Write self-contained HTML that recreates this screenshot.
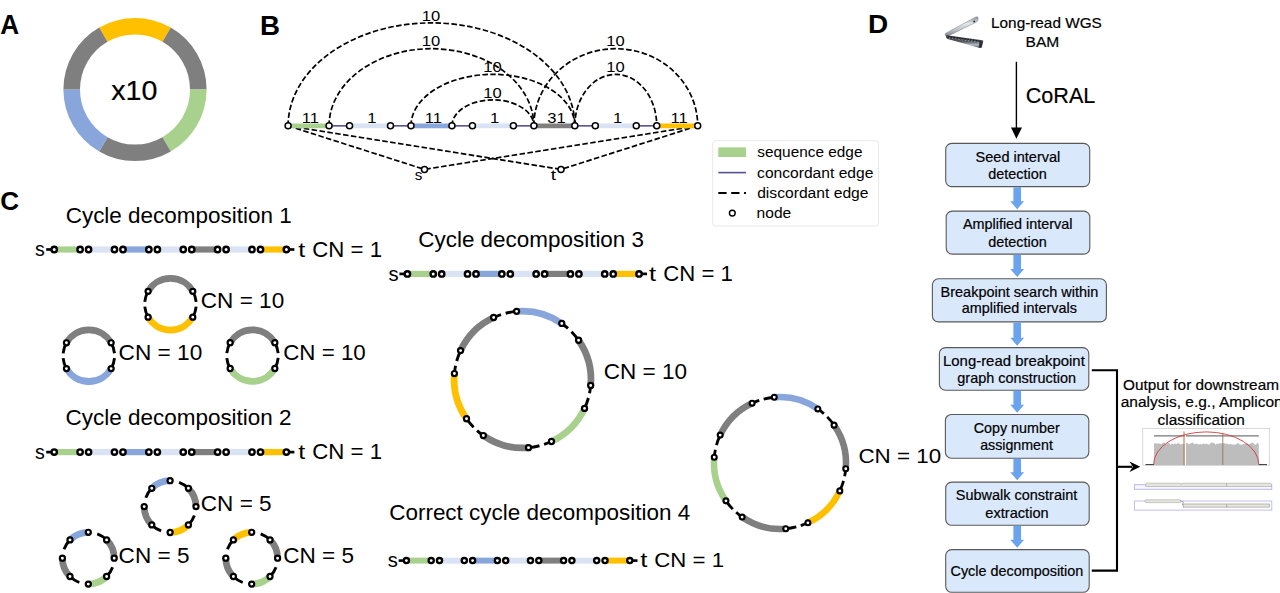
<!DOCTYPE html>
<html><head><meta charset="utf-8"><title>CoRAL figure</title>
<style>
html,body{margin:0;padding:0;background:#fff;}
body{width:1280px;height:593px;overflow:hidden;}
svg{display:block;font-family:"Liberation Sans",sans-serif;}
text.ar{stroke:#000;stroke-width:0.2px;}
</style></head>
<body>
<svg width="1280" height="593" viewBox="0 0 1280 593">
<rect width="1280" height="593" fill="#fff"/>
<text transform="translate(0.18,33.90) scale(0.9707,1)" font-size="27.00" font-weight="bold" fill="#000">A</text>
<text transform="translate(260.00,34.90) scale(1.0261,1)" font-size="27.00" font-weight="bold" fill="#000">B</text>
<text transform="translate(0.16,210.30) scale(0.9852,1)" font-size="26.50" font-weight="bold" fill="#000">C</text>
<text transform="translate(868.08,33.00) scale(1.0968,1)" font-size="25.50" font-weight="bold" fill="#000">D</text>
<path d="M103.35,34.68 A63.3,63.3 0 0 1 166.65,34.68" fill="none" stroke="#FFC000" stroke-width="16.6" stroke-linecap="butt"/>
<path d="M166.65,34.68 A63.3,63.3 0 0 1 198.30,89.50" fill="none" stroke="#7F7F7F" stroke-width="16.6" stroke-linecap="butt"/>
<path d="M198.30,89.50 A63.3,63.3 0 0 1 166.65,144.32" fill="none" stroke="#A9D18E" stroke-width="16.6" stroke-linecap="butt"/>
<path d="M166.65,144.32 A63.3,63.3 0 0 1 103.35,144.32" fill="none" stroke="#7F7F7F" stroke-width="16.6" stroke-linecap="butt"/>
<path d="M103.35,144.32 A63.3,63.3 0 0 1 71.70,89.50" fill="none" stroke="#88A6DC" stroke-width="16.6" stroke-linecap="butt"/>
<path d="M71.70,89.50 A63.3,63.3 0 0 1 103.35,34.68" fill="none" stroke="#7F7F7F" stroke-width="16.6" stroke-linecap="butt"/>
<text class="ar" transform="translate(111.27,100.40) scale(1.0599,1)" font-size="27.00" fill="#000">x10</text>
<path d="M288.10,125.85 A143.36,103 0 0 1 574.82,125.85" fill="none" stroke="#000" stroke-width="1.7" stroke-dasharray="5.55 2.4"/>
<path d="M329.06,125.85 A102.40,77.2 0 0 1 533.86,125.85" fill="none" stroke="#000" stroke-width="1.7" stroke-dasharray="5.55 2.4"/>
<path d="M410.98,125.85 A81.92,51.5 0 0 1 574.82,125.85" fill="none" stroke="#000" stroke-width="1.7" stroke-dasharray="5.55 2.4"/>
<path d="M451.94,125.85 A40.96,26.0 0 0 1 533.86,125.85" fill="none" stroke="#000" stroke-width="1.7" stroke-dasharray="5.55 2.4"/>
<path d="M533.86,125.85 A81.92,77.2 0 0 1 697.70,125.85" fill="none" stroke="#000" stroke-width="1.7" stroke-dasharray="5.55 2.4"/>
<path d="M574.82,125.85 A40.96,51.5 0 0 1 656.74,125.85" fill="none" stroke="#000" stroke-width="1.7" stroke-dasharray="5.55 2.4"/>
<path d="M288.10,125.85 L424.5,169.4" stroke="#000" stroke-width="1.7" stroke-dasharray="5.55 2.4" fill="none"/>
<path d="M697.70,125.85 L424.5,169.4" stroke="#000" stroke-width="1.7" stroke-dasharray="5.55 2.4" fill="none"/>
<path d="M288.10,125.85 L561.0,169.4" stroke="#000" stroke-width="1.7" stroke-dasharray="5.55 2.4" fill="none"/>
<path d="M697.70,125.85 L561.0,169.4" stroke="#000" stroke-width="1.7" stroke-dasharray="5.55 2.4" fill="none"/>
<line x1="288.10" y1="125.85" x2="329.06" y2="125.85" stroke="#A9D18E" stroke-width="4.6"/>
<line x1="349.54" y1="125.85" x2="390.50" y2="125.85" stroke="#DAE3F3" stroke-width="4.6"/>
<line x1="410.98" y1="125.85" x2="451.94" y2="125.85" stroke="#88A6DC" stroke-width="4.6"/>
<line x1="472.42" y1="125.85" x2="513.38" y2="125.85" stroke="#DAE3F3" stroke-width="4.6"/>
<line x1="533.86" y1="125.85" x2="574.82" y2="125.85" stroke="#7F7F7F" stroke-width="4.6"/>
<line x1="595.30" y1="125.85" x2="636.26" y2="125.85" stroke="#DAE3F3" stroke-width="4.6"/>
<line x1="656.74" y1="125.85" x2="697.70" y2="125.85" stroke="#FFC000" stroke-width="4.6"/>
<line x1="329.06" y1="125.85" x2="349.54" y2="125.85" stroke="#525296" stroke-width="1.6"/>
<line x1="390.50" y1="125.85" x2="410.98" y2="125.85" stroke="#525296" stroke-width="1.6"/>
<line x1="451.94" y1="125.85" x2="472.42" y2="125.85" stroke="#525296" stroke-width="1.6"/>
<line x1="513.38" y1="125.85" x2="533.86" y2="125.85" stroke="#525296" stroke-width="1.6"/>
<line x1="574.82" y1="125.85" x2="595.30" y2="125.85" stroke="#525296" stroke-width="1.6"/>
<line x1="636.26" y1="125.85" x2="656.74" y2="125.85" stroke="#525296" stroke-width="1.6"/>
<circle cx="288.10" cy="125.85" r="3.0" fill="#fff" stroke="#000" stroke-width="1.5"/>
<circle cx="329.06" cy="125.85" r="3.0" fill="#fff" stroke="#000" stroke-width="1.5"/>
<circle cx="349.54" cy="125.85" r="3.0" fill="#fff" stroke="#000" stroke-width="1.5"/>
<circle cx="390.50" cy="125.85" r="3.0" fill="#fff" stroke="#000" stroke-width="1.5"/>
<circle cx="410.98" cy="125.85" r="3.0" fill="#fff" stroke="#000" stroke-width="1.5"/>
<circle cx="451.94" cy="125.85" r="3.0" fill="#fff" stroke="#000" stroke-width="1.5"/>
<circle cx="472.42" cy="125.85" r="3.0" fill="#fff" stroke="#000" stroke-width="1.5"/>
<circle cx="513.38" cy="125.85" r="3.0" fill="#fff" stroke="#000" stroke-width="1.5"/>
<circle cx="533.86" cy="125.85" r="3.0" fill="#fff" stroke="#000" stroke-width="1.5"/>
<circle cx="574.82" cy="125.85" r="3.0" fill="#fff" stroke="#000" stroke-width="1.5"/>
<circle cx="595.30" cy="125.85" r="3.0" fill="#fff" stroke="#000" stroke-width="1.5"/>
<circle cx="636.26" cy="125.85" r="3.0" fill="#fff" stroke="#000" stroke-width="1.5"/>
<circle cx="656.74" cy="125.85" r="3.0" fill="#fff" stroke="#000" stroke-width="1.5"/>
<circle cx="697.70" cy="125.85" r="3.0" fill="#fff" stroke="#000" stroke-width="1.5"/>
<circle cx="424.50" cy="169.40" r="3.0" fill="#fff" stroke="#000" stroke-width="1.5"/>
<circle cx="561.00" cy="169.40" r="3.0" fill="#fff" stroke="#000" stroke-width="1.5"/>
<text transform="translate(301.79,122.90) scale(1.1200,1)" font-size="14.80">11</text>
<text transform="translate(367.21,122.90) scale(1.1200,1)" font-size="14.80">1</text>
<text transform="translate(424.67,122.90) scale(1.1200,1)" font-size="14.80">11</text>
<text transform="translate(490.09,122.90) scale(1.1200,1)" font-size="14.80">1</text>
<text transform="translate(547.22,122.90) scale(1.1200,1)" font-size="14.80">31</text>
<text transform="translate(612.97,122.90) scale(1.1200,1)" font-size="14.80">1</text>
<text transform="translate(670.43,122.90) scale(1.1200,1)" font-size="14.80">11</text>
<text transform="translate(421.71,20.60) scale(1.1200,1)" font-size="14.80">10</text>
<text transform="translate(421.71,45.90) scale(1.1200,1)" font-size="14.80">10</text>
<text transform="translate(483.26,72.00) scale(1.1200,1)" font-size="14.80">10</text>
<text transform="translate(483.26,97.50) scale(1.1200,1)" font-size="14.80">10</text>
<text transform="translate(606.31,46.00) scale(1.1200,1)" font-size="14.80">10</text>
<text transform="translate(606.31,71.80) scale(1.1200,1)" font-size="14.80">10</text>
<text transform="translate(414.64,179.60) scale(0.9917,1)" font-size="15.30" fill="#000">s</text>
<text transform="translate(550.82,179.80) scale(1.2303,1)" font-size="15.30" fill="#000">t</text>
<rect x="712.7" y="140.7" width="165.8" height="85.3" rx="3" fill="#fff" stroke="#e8e8e8" stroke-width="1"/>
<rect x="718.3" y="147.4" width="27.7" height="9.6" fill="#A9D18E"/>
<line x1="718.3" y1="172.6" x2="746" y2="172.6" stroke="#525296" stroke-width="1.6"/>
<line x1="718.3" y1="193" x2="746" y2="193" stroke="#000" stroke-width="2.1" stroke-dasharray="8.3 4.6"/>
<circle cx="732.30" cy="213.10" r="2.9" fill="#fff" stroke="#000" stroke-width="1.45"/>
<text transform="translate(757.34,157.00) scale(1.0530,1)" font-size="14.60" fill="#000">sequence edge</text>
<text transform="translate(757.10,177.50) scale(1.0693,1)" font-size="14.60" fill="#000">concordant edge</text>
<text transform="translate(757.17,197.60) scale(1.0727,1)" font-size="14.60" fill="#000">discordant edge</text>
<text transform="translate(756.59,218.20) scale(1.0687,1)" font-size="14.60" fill="#000">node</text>
<text transform="translate(65.68,223.00) scale(1.0500,1)" font-size="21.40" fill="#000">Cycle decomposition 1</text>
<line x1="54.20" y1="249.50" x2="80.10" y2="249.50" stroke="#A9D18E" stroke-width="6.20"/>
<line x1="88.58" y1="249.50" x2="114.48" y2="249.50" stroke="#DAE3F3" stroke-width="6.20"/>
<line x1="122.96" y1="249.50" x2="148.86" y2="249.50" stroke="#88A6DC" stroke-width="6.20"/>
<line x1="157.34" y1="249.50" x2="183.24" y2="249.50" stroke="#DAE3F3" stroke-width="6.20"/>
<line x1="191.72" y1="249.50" x2="217.62" y2="249.50" stroke="#7F7F7F" stroke-width="6.20"/>
<line x1="226.10" y1="249.50" x2="252.00" y2="249.50" stroke="#DAE3F3" stroke-width="6.20"/>
<line x1="260.48" y1="249.50" x2="286.38" y2="249.50" stroke="#FFC000" stroke-width="6.20"/>
<line x1="46.20" y1="249.50" x2="54.20" y2="249.50" stroke="#000" stroke-width="2.70"/>
<line x1="286.38" y1="249.50" x2="294.38" y2="249.50" stroke="#000" stroke-width="2.70"/>
<circle cx="54.20" cy="249.50" r="2.7" fill="#fff" stroke="#000" stroke-width="2.4"/>
<circle cx="80.10" cy="249.50" r="2.7" fill="#fff" stroke="#000" stroke-width="2.4"/>
<circle cx="88.58" cy="249.50" r="2.7" fill="#fff" stroke="#000" stroke-width="2.4"/>
<circle cx="114.48" cy="249.50" r="2.7" fill="#fff" stroke="#000" stroke-width="2.4"/>
<circle cx="122.96" cy="249.50" r="2.7" fill="#fff" stroke="#000" stroke-width="2.4"/>
<circle cx="148.86" cy="249.50" r="2.7" fill="#fff" stroke="#000" stroke-width="2.4"/>
<circle cx="157.34" cy="249.50" r="2.7" fill="#fff" stroke="#000" stroke-width="2.4"/>
<circle cx="183.24" cy="249.50" r="2.7" fill="#fff" stroke="#000" stroke-width="2.4"/>
<circle cx="191.72" cy="249.50" r="2.7" fill="#fff" stroke="#000" stroke-width="2.4"/>
<circle cx="217.62" cy="249.50" r="2.7" fill="#fff" stroke="#000" stroke-width="2.4"/>
<circle cx="226.10" cy="249.50" r="2.7" fill="#fff" stroke="#000" stroke-width="2.4"/>
<circle cx="252.00" cy="249.50" r="2.7" fill="#fff" stroke="#000" stroke-width="2.4"/>
<circle cx="260.48" cy="249.50" r="2.7" fill="#fff" stroke="#000" stroke-width="2.4"/>
<circle cx="286.38" cy="249.50" r="2.7" fill="#fff" stroke="#000" stroke-width="2.4"/>
<text transform="translate(35.01,256.00) scale(0.9317,1)" font-size="20.97" fill="#000">s</text>
<text transform="translate(298.22,256.90) scale(1.1967,1)" font-size="20.97" fill="#000">t</text>
<text transform="translate(312.19,256.90) scale(1.0406,1)" font-size="21.40" fill="#000">CN = 1</text>
<path d="M148.11,291.35 A25.8,25.8 0 0 1 192.79,291.35" fill="none" stroke="#7F7F7F" stroke-width="6.8" stroke-linecap="butt"/>
<path d="M192.79,317.15 A25.8,25.8 0 0 1 148.11,317.15" fill="none" stroke="#FFC000" stroke-width="6.8" stroke-linecap="butt"/>
<path d="M148.11,291.35 A25.8,25.8 0 0 0 148.11,317.15" fill="none" stroke="#000" stroke-width="2.9" stroke-linecap="butt" stroke-dasharray="11.1 4.8"/>
<path d="M192.79,317.15 A25.8,25.8 0 0 0 192.79,291.35" fill="none" stroke="#000" stroke-width="2.9" stroke-linecap="butt" stroke-dasharray="11.1 4.8"/>
<circle cx="192.79" cy="317.15" r="2.55" fill="#fff" stroke="#000" stroke-width="2.2"/>
<circle cx="148.11" cy="317.15" r="2.55" fill="#fff" stroke="#000" stroke-width="2.2"/>
<circle cx="148.11" cy="291.35" r="2.55" fill="#fff" stroke="#000" stroke-width="2.2"/>
<circle cx="192.79" cy="291.35" r="2.55" fill="#fff" stroke="#000" stroke-width="2.2"/>
<path d="M66.46,342.80 A25.8,25.8 0 0 1 111.14,342.80" fill="none" stroke="#7F7F7F" stroke-width="6.8" stroke-linecap="butt"/>
<path d="M111.14,368.60 A25.8,25.8 0 0 1 66.46,368.60" fill="none" stroke="#88A6DC" stroke-width="6.8" stroke-linecap="butt"/>
<path d="M66.46,342.80 A25.8,25.8 0 0 0 66.46,368.60" fill="none" stroke="#000" stroke-width="2.9" stroke-linecap="butt" stroke-dasharray="11.1 4.8"/>
<path d="M111.14,368.60 A25.8,25.8 0 0 0 111.14,342.80" fill="none" stroke="#000" stroke-width="2.9" stroke-linecap="butt" stroke-dasharray="11.1 4.8"/>
<circle cx="111.14" cy="368.60" r="2.55" fill="#fff" stroke="#000" stroke-width="2.2"/>
<circle cx="66.46" cy="368.60" r="2.55" fill="#fff" stroke="#000" stroke-width="2.2"/>
<circle cx="66.46" cy="342.80" r="2.55" fill="#fff" stroke="#000" stroke-width="2.2"/>
<circle cx="111.14" cy="342.80" r="2.55" fill="#fff" stroke="#000" stroke-width="2.2"/>
<path d="M230.16,342.70 A25.8,25.8 0 0 1 274.84,342.70" fill="none" stroke="#7F7F7F" stroke-width="6.8" stroke-linecap="butt"/>
<path d="M274.84,368.50 A25.8,25.8 0 0 1 230.16,368.50" fill="none" stroke="#A9D18E" stroke-width="6.8" stroke-linecap="butt"/>
<path d="M230.16,342.70 A25.8,25.8 0 0 0 230.16,368.50" fill="none" stroke="#000" stroke-width="2.9" stroke-linecap="butt" stroke-dasharray="11.1 4.8"/>
<path d="M274.84,368.50 A25.8,25.8 0 0 0 274.84,342.70" fill="none" stroke="#000" stroke-width="2.9" stroke-linecap="butt" stroke-dasharray="11.1 4.8"/>
<circle cx="274.84" cy="368.50" r="2.55" fill="#fff" stroke="#000" stroke-width="2.2"/>
<circle cx="230.16" cy="368.50" r="2.55" fill="#fff" stroke="#000" stroke-width="2.2"/>
<circle cx="230.16" cy="342.70" r="2.55" fill="#fff" stroke="#000" stroke-width="2.2"/>
<circle cx="274.84" cy="342.70" r="2.55" fill="#fff" stroke="#000" stroke-width="2.2"/>
<text transform="translate(200.77,308.40) scale(1.0551,1)" font-size="21.40" fill="#000">CN = 10</text>
<text transform="translate(118.62,360.40) scale(1.0584,1)" font-size="21.40" fill="#000">CN = 10</text>
<text transform="translate(283.18,360.40) scale(1.0448,1)" font-size="21.40" fill="#000">CN = 10</text>
<text transform="translate(65.48,424.90) scale(1.0509,1)" font-size="21.40" fill="#000">Cycle decomposition 2</text>
<line x1="54.20" y1="452.10" x2="80.10" y2="452.10" stroke="#A9D18E" stroke-width="6.20"/>
<line x1="88.58" y1="452.10" x2="114.48" y2="452.10" stroke="#DAE3F3" stroke-width="6.20"/>
<line x1="122.96" y1="452.10" x2="148.86" y2="452.10" stroke="#88A6DC" stroke-width="6.20"/>
<line x1="157.34" y1="452.10" x2="183.24" y2="452.10" stroke="#DAE3F3" stroke-width="6.20"/>
<line x1="191.72" y1="452.10" x2="217.62" y2="452.10" stroke="#7F7F7F" stroke-width="6.20"/>
<line x1="226.10" y1="452.10" x2="252.00" y2="452.10" stroke="#DAE3F3" stroke-width="6.20"/>
<line x1="260.48" y1="452.10" x2="286.38" y2="452.10" stroke="#FFC000" stroke-width="6.20"/>
<line x1="46.20" y1="452.10" x2="54.20" y2="452.10" stroke="#000" stroke-width="2.70"/>
<line x1="286.38" y1="452.10" x2="294.38" y2="452.10" stroke="#000" stroke-width="2.70"/>
<circle cx="54.20" cy="452.10" r="2.7" fill="#fff" stroke="#000" stroke-width="2.4"/>
<circle cx="80.10" cy="452.10" r="2.7" fill="#fff" stroke="#000" stroke-width="2.4"/>
<circle cx="88.58" cy="452.10" r="2.7" fill="#fff" stroke="#000" stroke-width="2.4"/>
<circle cx="114.48" cy="452.10" r="2.7" fill="#fff" stroke="#000" stroke-width="2.4"/>
<circle cx="122.96" cy="452.10" r="2.7" fill="#fff" stroke="#000" stroke-width="2.4"/>
<circle cx="148.86" cy="452.10" r="2.7" fill="#fff" stroke="#000" stroke-width="2.4"/>
<circle cx="157.34" cy="452.10" r="2.7" fill="#fff" stroke="#000" stroke-width="2.4"/>
<circle cx="183.24" cy="452.10" r="2.7" fill="#fff" stroke="#000" stroke-width="2.4"/>
<circle cx="191.72" cy="452.10" r="2.7" fill="#fff" stroke="#000" stroke-width="2.4"/>
<circle cx="217.62" cy="452.10" r="2.7" fill="#fff" stroke="#000" stroke-width="2.4"/>
<circle cx="226.10" cy="452.10" r="2.7" fill="#fff" stroke="#000" stroke-width="2.4"/>
<circle cx="252.00" cy="452.10" r="2.7" fill="#fff" stroke="#000" stroke-width="2.4"/>
<circle cx="260.48" cy="452.10" r="2.7" fill="#fff" stroke="#000" stroke-width="2.4"/>
<circle cx="286.38" cy="452.10" r="2.7" fill="#fff" stroke="#000" stroke-width="2.4"/>
<text transform="translate(35.01,458.50) scale(0.9317,1)" font-size="20.97" fill="#000">s</text>
<text transform="translate(298.22,459.40) scale(1.1967,1)" font-size="20.97" fill="#000">t</text>
<text transform="translate(312.19,459.40) scale(1.0406,1)" font-size="21.40" fill="#000">CN = 1</text>
<path d="M151.79,488.29 A25.9,25.9 0 0 1 170.10,480.70" fill="none" stroke="#88A6DC" stroke-width="6.8" stroke-linecap="butt"/>
<path d="M188.41,488.29 A25.9,25.9 0 0 1 196.00,506.60" fill="none" stroke="#7F7F7F" stroke-width="6.8" stroke-linecap="butt"/>
<path d="M188.41,524.91 A25.9,25.9 0 0 1 170.10,532.50" fill="none" stroke="#FFC000" stroke-width="6.8" stroke-linecap="butt"/>
<path d="M151.79,524.91 A25.9,25.9 0 0 1 144.20,506.60" fill="none" stroke="#7F7F7F" stroke-width="6.8" stroke-linecap="butt"/>
<path d="M188.41,488.29 A25.9,25.9 0 0 0 170.10,480.70" fill="none" stroke="#000" stroke-width="2.9" stroke-linecap="butt" stroke-dasharray="11.1 30"/>
<path d="M188.41,524.91 A25.9,25.9 0 0 0 196.00,506.60" fill="none" stroke="#000" stroke-width="2.9" stroke-linecap="butt" stroke-dasharray="11.1 30"/>
<path d="M151.79,524.91 A25.9,25.9 0 0 0 170.10,532.50" fill="none" stroke="#000" stroke-width="2.9" stroke-linecap="butt" stroke-dasharray="11.1 30"/>
<path d="M151.79,488.29 A25.9,25.9 0 0 0 144.20,506.60" fill="none" stroke="#000" stroke-width="2.9" stroke-linecap="butt" stroke-dasharray="11.1 30"/>
<circle cx="196.00" cy="506.60" r="2.55" fill="#fff" stroke="#000" stroke-width="2.2"/>
<circle cx="188.41" cy="524.91" r="2.55" fill="#fff" stroke="#000" stroke-width="2.2"/>
<circle cx="170.10" cy="532.50" r="2.55" fill="#fff" stroke="#000" stroke-width="2.2"/>
<circle cx="151.79" cy="524.91" r="2.55" fill="#fff" stroke="#000" stroke-width="2.2"/>
<circle cx="144.20" cy="506.60" r="2.55" fill="#fff" stroke="#000" stroke-width="2.2"/>
<circle cx="151.79" cy="488.29" r="2.55" fill="#fff" stroke="#000" stroke-width="2.2"/>
<circle cx="170.10" cy="480.70" r="2.55" fill="#fff" stroke="#000" stroke-width="2.2"/>
<circle cx="188.41" cy="488.29" r="2.55" fill="#fff" stroke="#000" stroke-width="2.2"/>
<path d="M69.99,539.89 A25.9,25.9 0 0 1 88.30,532.30" fill="none" stroke="#88A6DC" stroke-width="6.8" stroke-linecap="butt"/>
<path d="M106.61,539.89 A25.9,25.9 0 0 1 114.20,558.20" fill="none" stroke="#7F7F7F" stroke-width="6.8" stroke-linecap="butt"/>
<path d="M106.61,576.51 A25.9,25.9 0 0 1 88.30,584.10" fill="none" stroke="#A9D18E" stroke-width="6.8" stroke-linecap="butt"/>
<path d="M69.99,576.51 A25.9,25.9 0 0 1 62.40,558.20" fill="none" stroke="#7F7F7F" stroke-width="6.8" stroke-linecap="butt"/>
<path d="M106.61,539.89 A25.9,25.9 0 0 0 88.30,532.30" fill="none" stroke="#000" stroke-width="2.9" stroke-linecap="butt" stroke-dasharray="11.1 30"/>
<path d="M106.61,576.51 A25.9,25.9 0 0 0 114.20,558.20" fill="none" stroke="#000" stroke-width="2.9" stroke-linecap="butt" stroke-dasharray="11.1 30"/>
<path d="M69.99,576.51 A25.9,25.9 0 0 0 88.30,584.10" fill="none" stroke="#000" stroke-width="2.9" stroke-linecap="butt" stroke-dasharray="11.1 30"/>
<path d="M69.99,539.89 A25.9,25.9 0 0 0 62.40,558.20" fill="none" stroke="#000" stroke-width="2.9" stroke-linecap="butt" stroke-dasharray="11.1 30"/>
<circle cx="114.20" cy="558.20" r="2.55" fill="#fff" stroke="#000" stroke-width="2.2"/>
<circle cx="106.61" cy="576.51" r="2.55" fill="#fff" stroke="#000" stroke-width="2.2"/>
<circle cx="88.30" cy="584.10" r="2.55" fill="#fff" stroke="#000" stroke-width="2.2"/>
<circle cx="69.99" cy="576.51" r="2.55" fill="#fff" stroke="#000" stroke-width="2.2"/>
<circle cx="62.40" cy="558.20" r="2.55" fill="#fff" stroke="#000" stroke-width="2.2"/>
<circle cx="69.99" cy="539.89" r="2.55" fill="#fff" stroke="#000" stroke-width="2.2"/>
<circle cx="88.30" cy="532.30" r="2.55" fill="#fff" stroke="#000" stroke-width="2.2"/>
<circle cx="106.61" cy="539.89" r="2.55" fill="#fff" stroke="#000" stroke-width="2.2"/>
<path d="M233.39,539.89 A25.9,25.9 0 0 1 251.70,532.30" fill="none" stroke="#FFC000" stroke-width="6.8" stroke-linecap="butt"/>
<path d="M270.01,539.89 A25.9,25.9 0 0 1 277.60,558.20" fill="none" stroke="#7F7F7F" stroke-width="6.8" stroke-linecap="butt"/>
<path d="M270.01,576.51 A25.9,25.9 0 0 1 251.70,584.10" fill="none" stroke="#A9D18E" stroke-width="6.8" stroke-linecap="butt"/>
<path d="M233.39,576.51 A25.9,25.9 0 0 1 225.80,558.20" fill="none" stroke="#7F7F7F" stroke-width="6.8" stroke-linecap="butt"/>
<path d="M270.01,539.89 A25.9,25.9 0 0 0 251.70,532.30" fill="none" stroke="#000" stroke-width="2.9" stroke-linecap="butt" stroke-dasharray="11.1 30"/>
<path d="M270.01,576.51 A25.9,25.9 0 0 0 277.60,558.20" fill="none" stroke="#000" stroke-width="2.9" stroke-linecap="butt" stroke-dasharray="11.1 30"/>
<path d="M233.39,576.51 A25.9,25.9 0 0 0 251.70,584.10" fill="none" stroke="#000" stroke-width="2.9" stroke-linecap="butt" stroke-dasharray="11.1 30"/>
<path d="M233.39,539.89 A25.9,25.9 0 0 0 225.80,558.20" fill="none" stroke="#000" stroke-width="2.9" stroke-linecap="butt" stroke-dasharray="11.1 30"/>
<circle cx="277.60" cy="558.20" r="2.55" fill="#fff" stroke="#000" stroke-width="2.2"/>
<circle cx="270.01" cy="576.51" r="2.55" fill="#fff" stroke="#000" stroke-width="2.2"/>
<circle cx="251.70" cy="584.10" r="2.55" fill="#fff" stroke="#000" stroke-width="2.2"/>
<circle cx="233.39" cy="576.51" r="2.55" fill="#fff" stroke="#000" stroke-width="2.2"/>
<circle cx="225.80" cy="558.20" r="2.55" fill="#fff" stroke="#000" stroke-width="2.2"/>
<circle cx="233.39" cy="539.89" r="2.55" fill="#fff" stroke="#000" stroke-width="2.2"/>
<circle cx="251.70" cy="532.30" r="2.55" fill="#fff" stroke="#000" stroke-width="2.2"/>
<circle cx="270.01" cy="539.89" r="2.55" fill="#fff" stroke="#000" stroke-width="2.2"/>
<text transform="translate(200.77,510.90) scale(1.0551,1)" font-size="21.40">CN = 5</text>
<text transform="translate(118.62,562.90) scale(1.0551,1)" font-size="21.40">CN = 5</text>
<text transform="translate(283.17,562.90) scale(1.0551,1)" font-size="21.40">CN = 5</text>
<text transform="translate(418.28,247.10) scale(1.0490,1)" font-size="21.40" fill="#000">Cycle decomposition 3</text>
<line x1="407.40" y1="273.90" x2="433.25" y2="273.90" stroke="#A9D18E" stroke-width="6.20"/>
<line x1="441.70" y1="273.90" x2="467.55" y2="273.90" stroke="#DAE3F3" stroke-width="6.20"/>
<line x1="476.00" y1="273.90" x2="501.85" y2="273.90" stroke="#88A6DC" stroke-width="6.20"/>
<line x1="510.30" y1="273.90" x2="536.15" y2="273.90" stroke="#DAE3F3" stroke-width="6.20"/>
<line x1="544.60" y1="273.90" x2="570.45" y2="273.90" stroke="#7F7F7F" stroke-width="6.20"/>
<line x1="578.90" y1="273.90" x2="604.75" y2="273.90" stroke="#DAE3F3" stroke-width="6.20"/>
<line x1="613.20" y1="273.90" x2="639.05" y2="273.90" stroke="#FFC000" stroke-width="6.20"/>
<line x1="399.40" y1="273.90" x2="407.40" y2="273.90" stroke="#000" stroke-width="2.70"/>
<line x1="639.05" y1="273.90" x2="647.05" y2="273.90" stroke="#000" stroke-width="2.70"/>
<circle cx="407.40" cy="273.90" r="2.7" fill="#fff" stroke="#000" stroke-width="2.4"/>
<circle cx="433.25" cy="273.90" r="2.7" fill="#fff" stroke="#000" stroke-width="2.4"/>
<circle cx="441.70" cy="273.90" r="2.7" fill="#fff" stroke="#000" stroke-width="2.4"/>
<circle cx="467.55" cy="273.90" r="2.7" fill="#fff" stroke="#000" stroke-width="2.4"/>
<circle cx="476.00" cy="273.90" r="2.7" fill="#fff" stroke="#000" stroke-width="2.4"/>
<circle cx="501.85" cy="273.90" r="2.7" fill="#fff" stroke="#000" stroke-width="2.4"/>
<circle cx="510.30" cy="273.90" r="2.7" fill="#fff" stroke="#000" stroke-width="2.4"/>
<circle cx="536.15" cy="273.90" r="2.7" fill="#fff" stroke="#000" stroke-width="2.4"/>
<circle cx="544.60" cy="273.90" r="2.7" fill="#fff" stroke="#000" stroke-width="2.4"/>
<circle cx="570.45" cy="273.90" r="2.7" fill="#fff" stroke="#000" stroke-width="2.4"/>
<circle cx="578.90" cy="273.90" r="2.7" fill="#fff" stroke="#000" stroke-width="2.4"/>
<circle cx="604.75" cy="273.90" r="2.7" fill="#fff" stroke="#000" stroke-width="2.4"/>
<circle cx="613.20" cy="273.90" r="2.7" fill="#fff" stroke="#000" stroke-width="2.4"/>
<circle cx="639.05" cy="273.90" r="2.7" fill="#fff" stroke="#000" stroke-width="2.4"/>
<text transform="translate(388.39,280.50) scale(0.9646,1)" font-size="20.97" fill="#000">s</text>
<text transform="translate(648.92,280.80) scale(1.2154,1)" font-size="20.97" fill="#000">t</text>
<text transform="translate(663.29,280.80) scale(1.0360,1)" font-size="21.40" fill="#000">CN = 1</text>
<path d="M516.59,311.36 A68.4,68.4 0 0 1 561.78,323.47" fill="none" stroke="#88A6DC" stroke-width="6.8" stroke-linecap="butt"/>
<path d="M578.58,340.27 A68.4,68.4 0 0 1 590.69,385.46" fill="none" stroke="#7F7F7F" stroke-width="6.8" stroke-linecap="butt"/>
<path d="M584.54,408.41 A68.4,68.4 0 0 1 551.46,441.49" fill="none" stroke="#A9D18E" stroke-width="6.8" stroke-linecap="butt"/>
<path d="M528.51,447.64 A68.4,68.4 0 0 1 483.32,435.53" fill="none" stroke="#7F7F7F" stroke-width="6.8" stroke-linecap="butt"/>
<path d="M466.52,418.73 A68.4,68.4 0 0 1 454.41,373.54" fill="none" stroke="#FFC000" stroke-width="6.8" stroke-linecap="butt"/>
<path d="M460.56,350.59 A68.4,68.4 0 0 1 493.64,317.51" fill="none" stroke="#7F7F7F" stroke-width="6.8" stroke-linecap="butt"/>
<path d="M578.58,340.27 A68.4,68.4 0 0 0 561.78,323.47" fill="none" stroke="#000" stroke-width="2.9" stroke-linecap="butt" stroke-dasharray="11.10 4.80"/>
<path d="M584.54,408.41 A68.4,68.4 0 0 0 590.69,385.46" fill="none" stroke="#000" stroke-width="2.9" stroke-linecap="butt" stroke-dasharray="11.10 4.80"/>
<path d="M528.51,447.64 A68.4,68.4 0 0 0 551.46,441.49" fill="none" stroke="#000" stroke-width="2.9" stroke-linecap="butt" stroke-dasharray="11.10 4.80"/>
<path d="M466.52,418.73 A68.4,68.4 0 0 0 483.32,435.53" fill="none" stroke="#000" stroke-width="2.9" stroke-linecap="butt" stroke-dasharray="11.10 4.80"/>
<path d="M460.56,350.59 A68.4,68.4 0 0 0 454.41,373.54" fill="none" stroke="#000" stroke-width="2.9" stroke-linecap="butt" stroke-dasharray="11.10 4.80"/>
<path d="M516.59,311.36 A68.4,68.4 0 0 0 493.64,317.51" fill="none" stroke="#000" stroke-width="2.9" stroke-linecap="butt" stroke-dasharray="11.10 4.80"/>
<circle cx="516.59" cy="311.36" r="2.55" fill="#fff" stroke="#000" stroke-width="2.2"/>
<circle cx="561.78" cy="323.47" r="2.55" fill="#fff" stroke="#000" stroke-width="2.2"/>
<circle cx="578.58" cy="340.27" r="2.55" fill="#fff" stroke="#000" stroke-width="2.2"/>
<circle cx="590.69" cy="385.46" r="2.55" fill="#fff" stroke="#000" stroke-width="2.2"/>
<circle cx="584.54" cy="408.41" r="2.55" fill="#fff" stroke="#000" stroke-width="2.2"/>
<circle cx="551.46" cy="441.49" r="2.55" fill="#fff" stroke="#000" stroke-width="2.2"/>
<circle cx="528.51" cy="447.64" r="2.55" fill="#fff" stroke="#000" stroke-width="2.2"/>
<circle cx="483.32" cy="435.53" r="2.55" fill="#fff" stroke="#000" stroke-width="2.2"/>
<circle cx="466.52" cy="418.73" r="2.55" fill="#fff" stroke="#000" stroke-width="2.2"/>
<circle cx="454.41" cy="373.54" r="2.55" fill="#fff" stroke="#000" stroke-width="2.2"/>
<circle cx="460.56" cy="350.59" r="2.55" fill="#fff" stroke="#000" stroke-width="2.2"/>
<circle cx="493.64" cy="317.51" r="2.55" fill="#fff" stroke="#000" stroke-width="2.2"/>
<text transform="translate(603.67,379.40) scale(1.0538,1)" font-size="21.40" fill="#000">CN = 10</text>
<text transform="translate(389.18,520.00) scale(1.0507,1)" font-size="21.40" fill="#000">Correct cycle decomposition 4</text>
<line x1="406.40" y1="560.60" x2="431.20" y2="560.60" stroke="#A9D18E" stroke-width="5.98"/>
<line x1="439.50" y1="560.60" x2="464.30" y2="560.60" stroke="#DAE3F3" stroke-width="5.98"/>
<line x1="472.60" y1="560.60" x2="497.40" y2="560.60" stroke="#88A6DC" stroke-width="5.98"/>
<line x1="505.70" y1="560.60" x2="530.50" y2="560.60" stroke="#DAE3F3" stroke-width="5.98"/>
<line x1="538.80" y1="560.60" x2="563.60" y2="560.60" stroke="#7F7F7F" stroke-width="5.98"/>
<line x1="571.90" y1="560.60" x2="596.70" y2="560.60" stroke="#DAE3F3" stroke-width="5.98"/>
<line x1="605.00" y1="560.60" x2="629.80" y2="560.60" stroke="#FFC000" stroke-width="5.98"/>
<line x1="398.68" y1="560.60" x2="406.40" y2="560.60" stroke="#000" stroke-width="2.61"/>
<line x1="629.80" y1="560.60" x2="637.52" y2="560.60" stroke="#000" stroke-width="2.61"/>
<circle cx="406.40" cy="560.60" r="2.6055" fill="#fff" stroke="#000" stroke-width="2.316"/>
<circle cx="431.20" cy="560.60" r="2.6055" fill="#fff" stroke="#000" stroke-width="2.316"/>
<circle cx="439.50" cy="560.60" r="2.6055" fill="#fff" stroke="#000" stroke-width="2.316"/>
<circle cx="464.30" cy="560.60" r="2.6055" fill="#fff" stroke="#000" stroke-width="2.316"/>
<circle cx="472.60" cy="560.60" r="2.6055" fill="#fff" stroke="#000" stroke-width="2.316"/>
<circle cx="497.40" cy="560.60" r="2.6055" fill="#fff" stroke="#000" stroke-width="2.316"/>
<circle cx="505.70" cy="560.60" r="2.6055" fill="#fff" stroke="#000" stroke-width="2.316"/>
<circle cx="530.50" cy="560.60" r="2.6055" fill="#fff" stroke="#000" stroke-width="2.316"/>
<circle cx="538.80" cy="560.60" r="2.6055" fill="#fff" stroke="#000" stroke-width="2.316"/>
<circle cx="563.60" cy="560.60" r="2.6055" fill="#fff" stroke="#000" stroke-width="2.316"/>
<circle cx="571.90" cy="560.60" r="2.6055" fill="#fff" stroke="#000" stroke-width="2.316"/>
<circle cx="596.70" cy="560.60" r="2.6055" fill="#fff" stroke="#000" stroke-width="2.316"/>
<circle cx="605.00" cy="560.60" r="2.6055" fill="#fff" stroke="#000" stroke-width="2.316"/>
<circle cx="629.80" cy="560.60" r="2.6055" fill="#fff" stroke="#000" stroke-width="2.316"/>
<text transform="translate(387.79,567.00) scale(0.9951,1)" font-size="20.33" fill="#000">s</text>
<text transform="translate(640.21,567.10) scale(1.2731,1)" font-size="20.33" fill="#000">t</text>
<text transform="translate(654.29,567.10) scale(1.0752,1)" font-size="20.65" fill="#000">CN = 1</text>
<path d="M774.25,397.25 A66.0,66.0 0 0 1 817.86,408.94" fill="none" stroke="#88A6DC" stroke-width="6.561999999999999" stroke-linecap="butt"/>
<path d="M834.06,425.14 A66.0,66.0 0 0 1 845.75,468.75" fill="none" stroke="#7F7F7F" stroke-width="6.561999999999999" stroke-linecap="butt"/>
<path d="M839.82,490.89 A66.0,66.0 0 0 1 807.89,522.82" fill="none" stroke="#FFC000" stroke-width="6.561999999999999" stroke-linecap="butt"/>
<path d="M785.75,528.75 A66.0,66.0 0 0 1 742.14,517.06" fill="none" stroke="#7F7F7F" stroke-width="6.561999999999999" stroke-linecap="butt"/>
<path d="M725.94,500.86 A66.0,66.0 0 0 1 714.25,457.25" fill="none" stroke="#A9D18E" stroke-width="6.561999999999999" stroke-linecap="butt"/>
<path d="M720.18,435.11 A66.0,66.0 0 0 1 752.11,403.18" fill="none" stroke="#7F7F7F" stroke-width="6.561999999999999" stroke-linecap="butt"/>
<path d="M834.06,425.14 A66.0,66.0 0 0 0 817.86,408.94" fill="none" stroke="#000" stroke-width="2.7984999999999998" stroke-linecap="butt" stroke-dasharray="10.71 4.63"/>
<path d="M839.82,490.89 A66.0,66.0 0 0 0 845.75,468.75" fill="none" stroke="#000" stroke-width="2.7984999999999998" stroke-linecap="butt" stroke-dasharray="10.71 4.63"/>
<path d="M785.75,528.75 A66.0,66.0 0 0 0 807.89,522.82" fill="none" stroke="#000" stroke-width="2.7984999999999998" stroke-linecap="butt" stroke-dasharray="10.71 4.63"/>
<path d="M725.94,500.86 A66.0,66.0 0 0 0 742.14,517.06" fill="none" stroke="#000" stroke-width="2.7984999999999998" stroke-linecap="butt" stroke-dasharray="10.71 4.63"/>
<path d="M720.18,435.11 A66.0,66.0 0 0 0 714.25,457.25" fill="none" stroke="#000" stroke-width="2.7984999999999998" stroke-linecap="butt" stroke-dasharray="10.71 4.63"/>
<path d="M774.25,397.25 A66.0,66.0 0 0 0 752.11,403.18" fill="none" stroke="#000" stroke-width="2.7984999999999998" stroke-linecap="butt" stroke-dasharray="10.71 4.63"/>
<circle cx="774.25" cy="397.25" r="2.4607499999999995" fill="#fff" stroke="#000" stroke-width="2.123"/>
<circle cx="817.86" cy="408.94" r="2.4607499999999995" fill="#fff" stroke="#000" stroke-width="2.123"/>
<circle cx="834.06" cy="425.14" r="2.4607499999999995" fill="#fff" stroke="#000" stroke-width="2.123"/>
<circle cx="845.75" cy="468.75" r="2.4607499999999995" fill="#fff" stroke="#000" stroke-width="2.123"/>
<circle cx="839.82" cy="490.89" r="2.4607499999999995" fill="#fff" stroke="#000" stroke-width="2.123"/>
<circle cx="807.89" cy="522.82" r="2.4607499999999995" fill="#fff" stroke="#000" stroke-width="2.123"/>
<circle cx="785.75" cy="528.75" r="2.4607499999999995" fill="#fff" stroke="#000" stroke-width="2.123"/>
<circle cx="742.14" cy="517.06" r="2.4607499999999995" fill="#fff" stroke="#000" stroke-width="2.123"/>
<circle cx="725.94" cy="500.86" r="2.4607499999999995" fill="#fff" stroke="#000" stroke-width="2.123"/>
<circle cx="714.25" cy="457.25" r="2.4607499999999995" fill="#fff" stroke="#000" stroke-width="2.123"/>
<circle cx="720.18" cy="435.11" r="2.4607499999999995" fill="#fff" stroke="#000" stroke-width="2.123"/>
<circle cx="752.11" cy="403.18" r="2.4607499999999995" fill="#fff" stroke="#000" stroke-width="2.123"/>
<text transform="translate(858.38,463.00) scale(1.0729,1)" font-size="20.86" fill="#000">CN = 10</text>
<rect x="945.70" y="143.40" width="144.00" height="43.20" rx="6" ry="6" fill="#DAE8FC" stroke="#595959" stroke-width="1.1"/>
<rect x="946.20" y="211.10" width="143.60" height="43.00" rx="6" ry="6" fill="#DAE8FC" stroke="#595959" stroke-width="1.1"/>
<rect x="932.40" y="278.80" width="174.00" height="43.10" rx="6" ry="6" fill="#DAE8FC" stroke="#595959" stroke-width="1.1"/>
<rect x="939.40" y="347.60" width="149.40" height="42.60" rx="6" ry="6" fill="#DAE8FC" stroke="#595959" stroke-width="1.1"/>
<rect x="945.40" y="414.50" width="143.40" height="43.70" rx="6" ry="6" fill="#DAE8FC" stroke="#595959" stroke-width="1.1"/>
<rect x="945.70" y="482.10" width="143.50" height="43.20" rx="6" ry="6" fill="#DAE8FC" stroke="#595959" stroke-width="1.1"/>
<rect x="945.70" y="549.60" width="143.50" height="42.70" rx="6" ry="6" fill="#DAE8FC" stroke="#595959" stroke-width="1.1"/>
<path d="M1013.40,187.20 L1021.00,187.20 L1021.00,201.30 L1024.10,201.30 L1017.20,209.30 L1010.30,201.30 L1013.40,201.30 Z" fill="#6AA3EE"/>
<path d="M1013.40,254.70 L1021.00,254.70 L1021.00,269.00 L1024.10,269.00 L1017.20,277.00 L1010.30,269.00 L1013.40,269.00 Z" fill="#6AA3EE"/>
<path d="M1013.40,322.50 L1021.00,322.50 L1021.00,337.80 L1024.10,337.80 L1017.20,345.80 L1010.30,337.80 L1013.40,337.80 Z" fill="#6AA3EE"/>
<path d="M1013.40,390.80 L1021.00,390.80 L1021.00,404.70 L1024.10,404.70 L1017.20,412.70 L1010.30,404.70 L1013.40,404.70 Z" fill="#6AA3EE"/>
<path d="M1013.40,458.80 L1021.00,458.80 L1021.00,472.30 L1024.10,472.30 L1017.20,480.30 L1010.30,472.30 L1013.40,472.30 Z" fill="#6AA3EE"/>
<path d="M1013.40,525.90 L1021.00,525.90 L1021.00,539.80 L1024.10,539.80 L1017.20,547.80 L1010.30,539.80 L1013.40,539.80 Z" fill="#6AA3EE"/>
<text class="ar" transform="translate(975.55,162.00) scale(1.0092,1)" font-size="14.40" fill="#000">Seed interval</text>
<text class="ar" transform="translate(988.22,178.50) scale(1.0026,1)" font-size="14.40" fill="#000">detection</text>
<text class="ar" transform="translate(962.93,229.30) scale(1.0002,1)" font-size="14.40" fill="#000">Amplified interval</text>
<text class="ar" transform="translate(988.22,246.50) scale(1.0026,1)" font-size="14.40" fill="#000">detection</text>
<text class="ar" transform="translate(940.54,297.00) scale(1.0065,1)" font-size="14.40" fill="#000">Breakpoint search within</text>
<text class="ar" transform="translate(961.75,313.40) scale(1.0007,1)" font-size="14.40" fill="#000">amplified intervals</text>
<text class="ar" transform="translate(943.01,365.60) scale(1.0358,1)" font-size="14.40" fill="#000">Long-read breakpoint</text>
<text class="ar" transform="translate(957.32,382.60) scale(1.0040,1)" font-size="14.40" fill="#000">graph construction</text>
<text class="ar" transform="translate(973.68,433.40) scale(0.9957,1)" font-size="14.40" fill="#000">Copy number</text>
<text class="ar" transform="translate(980.16,449.70) scale(0.9881,1)" font-size="14.40" fill="#000">assignment</text>
<text class="ar" transform="translate(955.85,500.20) scale(1.0050,1)" font-size="14.40" fill="#000">Subwalk constraint</text>
<text class="ar" transform="translate(985.34,517.50) scale(1.0141,1)" font-size="14.40" fill="#000">extraction</text>
<text class="ar" transform="translate(950.48,575.90) scale(1.0009,1)" font-size="14.40" fill="#000">Cycle decomposition</text>
<line x1="1016.4" y1="61.8" x2="1016.4" y2="130" stroke="#000" stroke-width="1.4"/>
<path d="M1011,127.6 L1022,127.6 L1016.4,138.8 Z" fill="#000"/>
<text class="ar" transform="translate(991.07,27.80) scale(1.0091,1)" font-size="15.20" fill="#000">Long-read WGS</text>
<text class="ar" transform="translate(1025.56,46.90) scale(1.0238,1)" font-size="15.20" fill="#000">BAM</text>
<text class="ar" transform="translate(1025.67,103.10) scale(1.0049,1)" font-size="21.50" fill="#000">CoRAL</text>
<path d="M1091.8,370.2 L1117,370.2 L1117,570.6 L1091.8,570.6" fill="none" stroke="#000" stroke-width="2.1"/>
<line x1="1117" y1="466.8" x2="1132" y2="466.8" stroke="#000" stroke-width="2.1"/>
<path d="M1140.3,466.8 L1129.5,461.5 L1132.8,466.8 L1129.5,471.9 Z" fill="#000"/>
<text class="ar" transform="translate(1123.11,389.60) scale(1.0091,1)" font-size="15.20" fill="#000">Output for downstream</text>
<text class="ar" transform="translate(1120.70,407.40) scale(1.0200,1)" font-size="15.20">analysis, e.g., Amplicon</text>
<text class="ar" transform="translate(1157.51,425.40) scale(1.0141,1)" font-size="15.20" fill="#000">classification</text>
<rect x="1142.8" y="428.4" width="126.8" height="36.8" fill="#fff" stroke="#d0d0d0" stroke-width="0.8"/>
<path d="M1154,465.2 L1154,443.8 L1155.5,443.0 L1157.0,443.7 L1158.5,443.3 L1160.0,443.8 L1161.5,443.9 L1163.0,442.6 L1164.5,442.4 L1166.0,444.4 L1167.5,443.0 L1169.0,443.0 L1170.5,444.8 L1172.0,443.5 L1173.5,444.4 L1175.0,443.5 L1176.5,443.9 L1178.0,442.8 L1179.5,443.9 L1181.0,444.5 L1182.5,443.7 L1184.0,444.2 L1185.5,444.0 L1187.0,442.6 L1188.5,444.2 L1190.0,443.8 L1191.5,443.1 L1193.0,442.5 L1194.5,444.5 L1196.0,443.5 L1197.5,444.1 L1199.0,444.5 L1200.5,444.1 L1202.0,444.6 L1203.5,443.3 L1205.0,444.3 L1206.5,443.5 L1208.0,444.6 L1209.5,444.5 L1211.0,442.6 L1212.5,442.7 L1214.0,442.9 L1215.5,444.7 L1217.0,443.4 L1218.5,443.9 L1220.0,443.1 L1221.5,443.6 L1223.0,443.3 L1224.5,443.2 L1226.0,443.8 L1227.5,443.8 L1229.0,444.6 L1230.5,444.0 L1232.0,444.6 L1233.5,444.5 L1235.0,444.8 L1236.5,444.0 L1238.0,442.8 L1239.5,444.5 L1241.0,444.7 L1242.5,444.6 L1244.0,443.8 L1245.5,444.1 L1247.0,442.9 L1248.5,444.4 L1250.0,443.8 L1251.5,443.1 L1253.0,442.6 L1254.5,444.4 L1256.0,444.8 L1257.5,442.6 L1258.8,444.3 L1258.8,465.2 Z" fill="#BDBDBD"/>
<line x1="1154" y1="435.9" x2="1258.8" y2="435.9" stroke="#777" stroke-width="1.4"/>
<line x1="1145.5" y1="464.6" x2="1154" y2="464.6" stroke="#333" stroke-width="1"/>
<line x1="1258.8" y1="464.6" x2="1267" y2="464.6" stroke="#333" stroke-width="1"/>
<line x1="1185.3" y1="432.5" x2="1185.3" y2="465" stroke="#fff" stroke-width="1.3"/>
<line x1="1184.0" y1="431.5" x2="1184.0" y2="465" stroke="#B8703E" stroke-width="1.0"/>
<line x1="1222.8" y1="433" x2="1222.8" y2="465" stroke="#8a6a50" stroke-width="0.8"/>
<path d="M1153.6,464.5 A52.6,32.6 0 0 1 1258.8,464.5" fill="none" stroke="#D23A3A" stroke-width="0.9"/>
<rect x="1134.4" y="484.7" width="137.4" height="4.6" fill="#f6f6fc" stroke="#b4b4ec" stroke-width="0.9"/>
<path d="M1145.6,486.5 L1145.6,484 Q1146,483.2 1147,483.2 L1180.5,483.2 L1181.3,484.6 L1182.1,483.2 L1270.5,483.2 L1271.5,484.5 L1271.5,486.5 Z" fill="#e6e6e0" stroke="#a8a8a0" stroke-width="0.6"/>
<line x1="1226.7" y1="483.4" x2="1226.7" y2="486.3" stroke="#909088" stroke-width="0.6"/>
<rect x="1134.4" y="501" width="137.4" height="9.1" fill="#fff" stroke="#b8b8ee" stroke-width="0.9"/>
<rect x="1145" y="499.8" width="35.7" height="2.8" rx="1" fill="#e6e6e0" stroke="#a8a8a0" stroke-width="0.6"/>
<rect x="1183.1" y="504" width="86.6" height="3.1" fill="#e6e6e0" stroke="#909088" stroke-width="0.6"/>
<path d="M1180.7,501 L1183,501.5 L1183.5,503 L1182,504 L1183.1,505" fill="none" stroke="#8080a0" stroke-width="0.6"/>
<line x1="1226.7" y1="504.2" x2="1226.7" y2="507" stroke="#909088" stroke-width="0.6"/>
<g>
<defs>
<linearGradient id="lidg" x1="0" y1="0" x2="0" y2="1">
<stop offset="0" stop-color="#8d9298"/><stop offset="0.35" stop-color="#e4e7ea"/><stop offset="0.7" stop-color="#b7bcc2"/><stop offset="1" stop-color="#7d8288"/>
</linearGradient>
<linearGradient id="baseg" x1="0" y1="0" x2="0" y2="1">
<stop offset="0" stop-color="#303338"/><stop offset="0.5" stop-color="#575b61"/><stop offset="0.75" stop-color="#b4bec8"/><stop offset="1" stop-color="#4a4e54"/>
</linearGradient>
</defs>
<path d="M945.2,33.6 L975.8,17.0 Q978.6,16.2 978.2,19.0 L977.3,21.6 L947.3,36.4 Q944.6,36.6 945.2,33.6 Z" fill="url(#lidg)" stroke="#7a7f86" stroke-width="0.5"/>
<circle cx="974.2" cy="21.4" r="1.0" fill="#2a2c30"/>
<path d="M946.3,35.3 L982.6,40.2 Q983.4,40.6 983.2,41.6 L981.9,47.0 Q981.5,48.2 979.8,48.0 L947.6,38.9 Q946.0,38.4 946.1,37.0 Z" fill="url(#baseg)"/>
<path d="M948,36.6 L980.5,41.2" stroke="#1e2024" stroke-width="1.3" stroke-dasharray="1.6 1.2"/>
<path d="M949,37.8 L979.8,42.6" stroke="#d8dcdf" stroke-width="0.6" stroke-dasharray="1 2.2"/>
<path d="M979.8,41 L983,41.4 L981.6,47.6 L978.6,47.4 Z" fill="#2b2e33"/>
</g>
</svg>
</body></html>
